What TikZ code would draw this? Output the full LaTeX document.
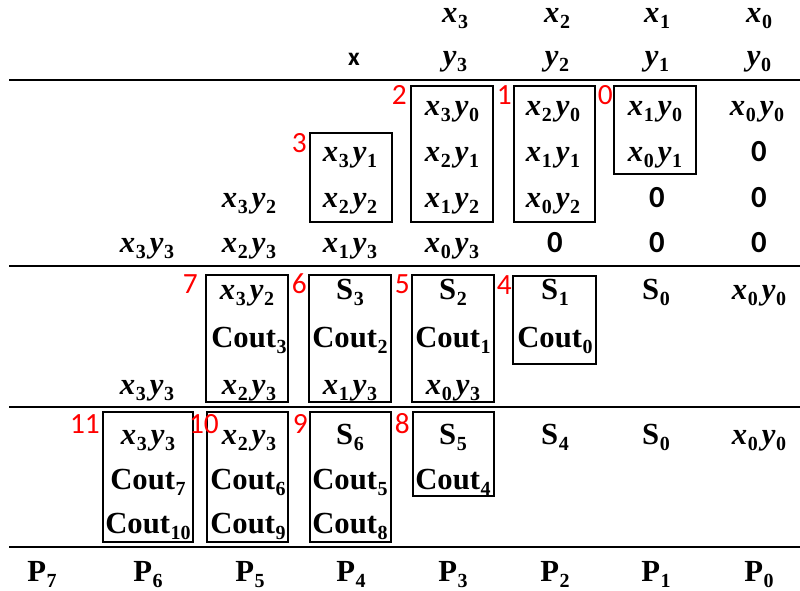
\documentclass[tikz,border=0pt]{standalone}
\usepackage{fontspec}
\setmainfont{Liberation Serif}
\newfontfamily\calib{Carlito}
\newcommand\sbx[1]{\kern0.5pt\raisebox{-4.5pt}{\fontsize{15}{18}\selectfont\bfseries\upshape #1}}
\newcommand\xv[1]{{\bfseries\itshape x}\sbx{#1}\kern3pt}
\newcommand\yv[1]{{\bfseries\itshape y}\sbx{#1}}
\newcommand\bsub[2]{\textbf{#1}\sbx{#2}}
\newcommand\zr{{\calib\bfseries 0}}
\begin{document}
\begin{tikzpicture}[x=0.75pt,y=-0.75pt,
  cell/.style={anchor=base, inner sep=0pt, font=\fontsize{23}{27}\selectfont\bfseries},
  lbl/.style={anchor=base east, inner sep=0pt, text=red, font=\calib\fontsize{22}{26}\selectfont},
  boxst/.style={draw, line width=0.9pt},
  rulest/.style={line width=1.4pt}]
\useasboundingbox (0,0) rectangle (800,590);
% rules
\foreach \yy/\nm in {80/a,266/b,407/c,547/d}{
  \coordinate (L\nm) at (9,\yy);
  \coordinate (R\nm) at (800,\yy);
  \draw[rulest] (L\nm) -- (R\nm);
}
% boxes
\draw[boxst] (614,86) rectangle (696,174);
\draw[boxst] (514,86) rectangle (595,222);
\draw[boxst] (411,86) rectangle (493,222);
\draw[boxst] (310,133) rectangle (392,222);
\draw[boxst] (206,275) rectangle (288,402);
\draw[boxst] (309,275) rectangle (391,402);
\draw[boxst] (412,275) rectangle (494,402);
\draw[boxst] (513,276) rectangle (596,364);
\draw[boxst] (103,412) rectangle (193,542);
\draw[boxst] (207,412) rectangle (288,542);
\draw[boxst] (310,412) rectangle (391,542);
\draw[boxst] (413,412) rectangle (494,496);
% header
\node[cell] (hx3) at (457,22) {\xv3};
\node[cell] (hx2) at (559,22) {\xv2};
\node[cell] (hx1) at (659,22) {\xv1};
\node[cell] (hx0) at (761,22) {\xv0};
\node[cell, font=\calib\fontsize{19}{22}\selectfont\bfseries] (hx) at (354,65) {x};
\node[cell] (hy3) at (455,65) {\yv3};
\node[cell] (hy2) at (557,65) {\yv2};
\node[cell] (hy1) at (657,65) {\yv1};
\node[cell] (hy0) at (759,65) {\yv0};
% block 1
\node[cell] (a11) at (452,115) {\xv3\yv0};
\node[cell] (a12) at (553,115) {\xv2\yv0};
\node[cell] (a13) at (655,115) {\xv1\yv0};
\node[cell] (a14) at (757,115) {\xv0\yv0};
\node[cell] (a21) at (350,161) {\xv3\yv1};
\node[cell] (a22) at (452,161) {\xv2\yv1};
\node[cell] (a23) at (553,161) {\xv1\yv1};
\node[cell] (a24) at (655,161) {\xv0\yv1};
\node[cell] (a25) at (759,161) {\zr};
\node[cell] (a31) at (249,207) {\xv3\yv2};
\node[cell] (a32) at (350,207) {\xv2\yv2};
\node[cell] (a33) at (452,207) {\xv1\yv2};
\node[cell] (a34) at (553,207) {\xv0\yv2};
\node[cell] (a35) at (657,207) {\zr};
\node[cell] (a36) at (759,207) {\zr};
\node[cell] (a41) at (147,252) {\xv3\yv3};
\node[cell] (a42) at (249,252) {\xv2\yv3};
\node[cell] (a43) at (350,252) {\xv1\yv3};
\node[cell] (a44) at (452,252) {\xv0\yv3};
\node[cell] (a45) at (555,252) {\zr};
\node[cell] (a46) at (657,252) {\zr};
\node[cell] (a47) at (759,252) {\zr};
% block 2
\node[cell] (b11) at (247,299) {\xv3\yv2};
\node[cell] (b12) at (350,299) {\bsub{S}{3}};
\node[cell] (b13) at (453,299) {\bsub{S}{2}};
\node[cell] (b14) at (555,299) {\bsub{S}{1}};
\node[cell] (b15) at (656,299) {\bsub{S}{0}};
\node[cell] (b16) at (759,299) {\xv0\yv0};
\node[cell] (b21) at (249,347) {\bsub{Cout}{3}};
\node[cell] (b22) at (350,347) {\bsub{Cout}{2}};
\node[cell] (b23) at (453,347) {\bsub{Cout}{1}};
\node[cell] (b24) at (555,347) {\bsub{Cout}{0}};
\node[cell] (b31) at (147,394) {\xv3\yv3};
\node[cell] (b32) at (249,394) {\xv2\yv3};
\node[cell] (b33) at (350,394) {\xv1\yv3};
\node[cell] (b34) at (453,394) {\xv0\yv3};
% block 3
\node[cell] (c11) at (148,444) {\xv3\yv3};
\node[cell] (c12) at (249,444) {\xv2\yv3};
\node[cell] (c13) at (350,444) {\bsub{S}{6}};
\node[cell] (c14) at (453,444) {\bsub{S}{5}};
\node[cell] (c15) at (555,444) {\bsub{S}{4}};
\node[cell] (c16) at (656,444) {\bsub{S}{0}};
\node[cell] (c17) at (759,444) {\xv0\yv0};
\node[cell] (c21) at (148,489) {\bsub{Cout}{7}};
\node[cell] (c22) at (248,489) {\bsub{Cout}{6}};
\node[cell] (c23) at (350,489) {\bsub{Cout}{5}};
\node[cell] (c24) at (453,489) {\bsub{Cout}{4}};
\node[cell] (c31) at (148,533) {\bsub{Cout}{10}};
\node[cell] (c32) at (248,533) {\bsub{Cout}{9}};
\node[cell] (c33) at (350,533) {\bsub{Cout}{8}};
% P row
\node[cell] (p7) at (42,581) {\bsub{P}{7}};
\node[cell] (p6) at (148,581) {\bsub{P}{6}};
\node[cell] (p5) at (250,581) {\bsub{P}{5}};
\node[cell] (p4) at (351,581) {\bsub{P}{4}};
\node[cell] (p3) at (453,581) {\bsub{P}{3}};
\node[cell] (p2) at (555,581) {\bsub{P}{2}};
\node[cell] (p1) at (656,581) {\bsub{P}{1}};
\node[cell] (p0) at (759,581) {\bsub{P}{0}};
% red labels
\node[lbl] (r0) at (613,104) {0};
\node[lbl] (r1) at (512,104) {1};
\node[lbl] (r2) at (407,104) {2};
\node[lbl] (r3) at (307,152) {3};
\node[lbl] (r7) at (198,293) {7};
\node[lbl] (r6) at (307,293) {6};
\node[lbl] (r5) at (410,293) {5};
\node[lbl] (r4) at (512,294) {4};
\node[lbl] (r11) at (100,433) {11};
\node[lbl] (r10) at (219,433) {10};
\node[lbl] (r9) at (308,433) {9};
\node[lbl] (r8) at (410,433) {8};
\end{tikzpicture}
\end{document}
